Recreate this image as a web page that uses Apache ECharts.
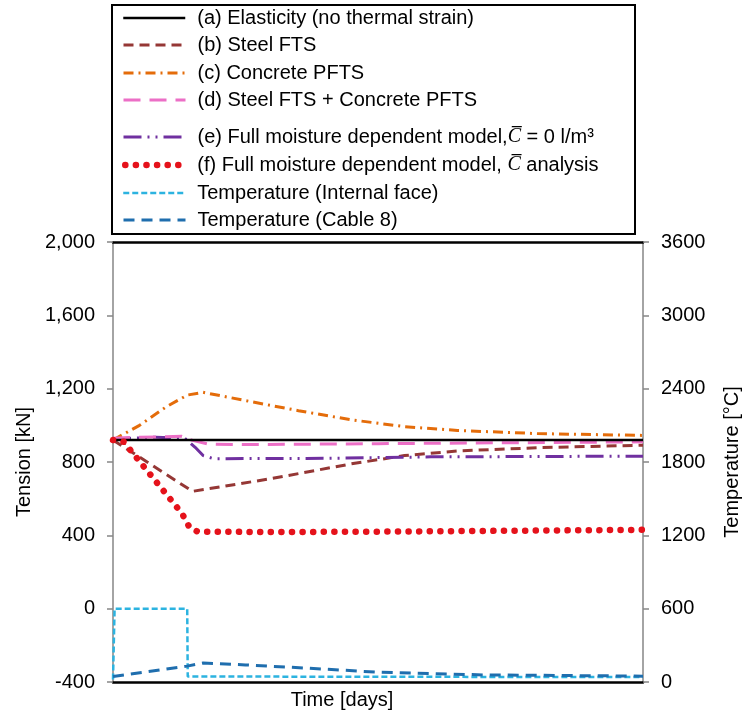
<!DOCTYPE html>
<html>
<head>
<meta charset="utf-8">
<script src="https://cdn.jsdelivr.net/npm/echarts@6/dist/echarts.min.js"></script>
<style>
html, body { margin: 0; padding: 0; background: #fff; }
#chart { width: 744px; height: 713px; }
</style>
</head>
<body>
<div id="chart"></div>
<script>
// Cable tension (kN) against normalised time, one list of [time, value] per model
const elasticity   = [[0, 920], [100, 920]];
const steelFts     = [[0, 920], [15, 640], [30, 710], [45, 790], [55, 835], [65, 860], [80, 878], [100, 892]];
const concretePfts = [[0, 920], [5, 1000], [10, 1100], [14, 1165], [17, 1180], [25, 1135], [35, 1080],
                      [45, 1030], [55, 993], [65, 972], [80, 955], [100, 945]];
const steelConcrete = [[0, 930], [5, 935], [13, 940], [15, 918], [18, 898], [25, 895], [50, 900], [75, 905], [100, 910]];
const moistureZero = [[0, 925], [8, 935], [13.5, 930], [15.5, 880], [17, 835], [19, 818], [40, 820], [60, 828], [100, 832]];
const moistureFull = [[0, 920], [2, 910], [13, 520], [14.5, 440], [16, 420], [30, 418], [50, 420], [75, 425], [100, 430]];

// Temperatures (°C) on the secondary axis
const tempInternal = [[0, 20], [0.3, 600], [14, 600], [14.1, 45], [100, 40]];
const tempCable8   = [[0, 45], [14, 130], [17, 155], [25, 140], [36, 115], [50, 80], [70, 58], [100, 48]];

const seriesNames = [
  '(a) Elasticity (no thermal strain)',
  '(b) Steel FTS',
  '(c) Concrete PFTS',
  '(d) Steel FTS + Concrete PFTS',
  '(e) Full moisture dependent model,C\u0305 = 0 l/m\u00b3',
  '(f) Full moisture dependent model, C\u0305 analysis',
  'Temperature (Internal face)',
  'Temperature (Cable 8)'
];

// Line look of each series, in the same order as the names
const lineLooks = [
  { color: '#000000', width: 2.5, type: 'solid' },
  { color: '#953735', width: 3, type: [10, 6] },
  { color: '#E46C0A', width: 3, type: [10, 5, 2, 5] },
  { color: '#EC6FC6', width: 3, type: [17, 9] },
  { color: '#7030A0', width: 3, type: [18, 6, 2, 6, 2, 6] },
  { color: '#E5121B', width: 6.5, type: [0.1, 10.5], cap: 'round' },
  { color: '#2CB3E0', width: 2.5, type: [6, 3] },
  { color: '#1F6EAE', width: 3, type: [11, 7] }
];

// Vertical centre of each legend row
const legendRowY = [18, 45, 73, 100, 137, 165, 193, 220];

const tensionTicks = { min: -400, max: 2000, step: 400 };
const tempTicks = { min: 0, max: 3600, step: 600 };

const FONT = 'Liberation Sans, Arial, sans-serif';
const AXIS_GREY = '#868686';

function legendFormatter(name) {
  return name.split('C\u0305').join('{c|C\u0305}');
}

const legends = seriesNames.map((name, i) => ({
  data: [name],
  left: 122,
  top: legendRowY[i] - 11,
  orient: 'horizontal',
  itemWidth: 62,
  itemHeight: 14,
  itemGap: 0,
  padding: 0,
  selectedMode: false,
  formatter: legendFormatter,
  itemStyle: { color: 'rgba(0,0,0,0)', borderWidth: 0 },
  lineStyle: Object.assign({}, lineLooks[i]),
  textStyle: {
    fontFamily: FONT,
    fontSize: 20,
    lineHeight: 22,
    color: '#000',
    // the round-capped dotted icon is a little wider than the others
    padding: [0, 0, 0, i === 5 ? 5 : 7],
    rich: {
      c: { fontFamily: 'Liberation Serif, DejaVu Serif, serif', fontStyle: 'italic', fontSize: 20, color: '#000' }
    }
  }
}));

function lineSeries(idx, data, axis) {
  const look = lineLooks[idx];
  return {
    name: seriesNames[idx],
    type: 'line',
    data: data,
    yAxisIndex: axis,
    symbol: 'none',
    showSymbol: false,
    silent: true,
    lineStyle: Object.assign({}, look),
    itemStyle: { color: look.color }
  };
}

const chart = echarts.init(document.getElementById('chart'), null, { renderer: 'canvas' });

chart.setOption({
  animation: false,
  backgroundColor: '#fff',
  grid: { left: 113, right: 101, top: 242, bottom: 31, containLabel: false, outerBoundsMode: 'none' },
  legend: legends,
  graphic: [{
    type: 'rect',
    shape: { x: 112, y: 5, width: 523, height: 229 },
    style: { fill: 'none', stroke: '#000', lineWidth: 2 },
    z: -1
  }],
  xAxis: [{
    type: 'value',
    min: 0,
    max: 100,
    position: 'bottom',
    axisLine: { show: true, onZero: false, lineStyle: { color: '#000', width: 2.5 } },
    axisTick: { show: false },
    axisLabel: { show: false },
    splitLine: { show: false },
    name: 'Time [days]',
    nameLocation: 'middle',
    nameGap: 8,
    nameTextStyle: { fontFamily: FONT, fontSize: 20, color: '#000', padding: [0, 72, 0, 0] }
  }, {
    type: 'value',
    min: 0,
    max: 100,
    position: 'top',
    axisLine: { show: true, onZero: false, lineStyle: { color: '#000', width: 2.5 } },
    axisTick: { show: false },
    axisLabel: { show: false },
    splitLine: { show: false }
  }],
  yAxis: [{
    type: 'value',
    position: 'left',
    min: tensionTicks.min,
    max: tensionTicks.max,
    interval: tensionTicks.step,
    axisLine: { show: true, onZero: false, lineStyle: { color: AXIS_GREY, width: 1.5 } },
    axisTick: { show: true, length: 6, lineStyle: { color: AXIS_GREY, width: 1.5 } },
    splitLine: { show: false },
    axisLabel: {
      fontFamily: FONT, fontSize: 20, color: '#000', margin: 18,
      formatter: v => v.toLocaleString('en-US')
    },
    name: 'Tension [kN]',
    nameLocation: 'middle',
    nameGap: 76,
    nameTextStyle: { fontFamily: FONT, fontSize: 20, color: '#000' }
  }, {
    type: 'value',
    position: 'right',
    min: tempTicks.min,
    max: tempTicks.max,
    interval: tempTicks.step,
    axisLine: { show: true, onZero: false, lineStyle: { color: AXIS_GREY, width: 1.5 } },
    axisTick: { show: true, length: 6, lineStyle: { color: AXIS_GREY, width: 1.5 } },
    splitLine: { show: false },
    axisLabel: { fontFamily: FONT, fontSize: 20, color: '#000', margin: 18, formatter: v => String(v) },
    name: 'Temperature [\u00b0C]',
    nameLocation: 'middle',
    nameGap: 79,
    nameTextStyle: { fontFamily: FONT, fontSize: 20, color: '#000' }
  }],
  series: [
    lineSeries(6, tempInternal, 1),
    lineSeries(7, tempCable8, 1),
    lineSeries(1, steelFts, 0),
    lineSeries(2, concretePfts, 0),
    lineSeries(4, moistureZero, 0),
    lineSeries(3, steelConcrete, 0),
    lineSeries(0, elasticity, 0),
    lineSeries(5, moistureFull, 0)
  ]
});
</script>
</body>
</html>
